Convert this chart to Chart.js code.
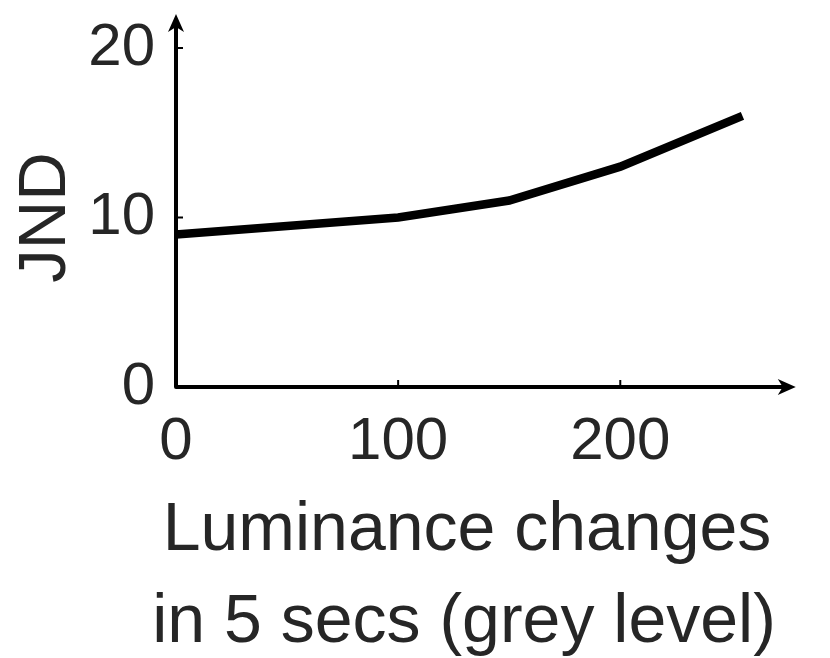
<!DOCTYPE html>
<html>
<head>
<meta charset="utf-8">
<title>JND vs luminance changes</title>
<script src="https://cdn.jsdelivr.net/npm/chart.js@4.4.1/dist/chart.umd.min.js"></script>
<style>
  html, body { margin: 0; padding: 0; background: #fff; }
  #wrap { width: 830px; height: 658px; }
</style>
</head>
<body>
<div id="wrap"><canvas id="mycanvas" width="830" height="658"></canvas></div>
<script>
// data
var luminance = [0, 100, 150, 200, 255];
var jnd = [9, 10, 11, 13, 16];
var xTickValues = [0, 100, 200];
var yTickValues = [0, 10, 20];
var xTitle = ["Luminance changes", "in 5 secs (grey level)"];
var yTitle = "JND";

// axis limits (the arrows run a bit past the last tick)
var xMax = 262, xArrowEnd = 279;
var yMax = 20, yArrowEnd = 22;

var textColor = "#262626";
var fontFamily = "'Liberation Sans', Arial, Helvetica, sans-serif";

function drawArrow(ctx, x, y, dx, dy) {
  // stealth style head, tip at (x, y), pointing along (dx, dy)
  var len = 18, half = 8, notch = 13;
  var px = -dy, py = dx;
  ctx.beginPath();
  ctx.moveTo(x, y);
  ctx.lineTo(x - dx * len + px * half, y - dy * len + py * half);
  ctx.lineTo(x - dx * notch, y - dy * notch);
  ctx.lineTo(x - dx * len - px * half, y - dy * len - py * half);
  ctx.closePath();
  ctx.fill();
}

var axesPlugin = {
  id: "axesPlugin",
  beforeDatasetsDraw: function (chart) {
    var ctx = chart.ctx;
    var xs = chart.scales.x, ys = chart.scales.y;
    var x0 = xs.getPixelForValue(0), y0 = ys.getPixelForValue(0);
    var xEnd = xs.getPixelForValue(xArrowEnd);
    var yEnd = ys.getPixelForValue(yArrowEnd);
    ctx.save();
    ctx.strokeStyle = "#000";
    ctx.fillStyle = "#000";
    ctx.lineWidth = 4;
    ctx.lineJoin = "round";
    ctx.beginPath();
    ctx.moveTo(x0, yEnd + 12);
    ctx.lineTo(x0, y0);
    ctx.lineTo(xEnd - 12, y0);
    ctx.stroke();
    drawArrow(ctx, x0, yEnd, 0, -1);
    drawArrow(ctx, xEnd, y0, 1, 0);
    // small inward tick marks
    ctx.lineWidth = 2;
    ctx.beginPath();
    xTickValues.forEach(function (v) {
      if (v === 0) return;
      var px = xs.getPixelForValue(v);
      ctx.moveTo(px, y0);
      ctx.lineTo(px, y0 - 7);
    });
    yTickValues.forEach(function (v) {
      if (v === 0) return;
      var py = ys.getPixelForValue(v);
      ctx.moveTo(x0, py);
      ctx.lineTo(x0 + 7, py);
    });
    ctx.stroke();
    ctx.restore();
  },
  // x title drawn by hand: the axis title would squeeze it to the axis width
  afterDraw: function (chart) {
    var ctx = chart.ctx;
    var xs = chart.scales.x;
    var cx = (xs.left + xs.right) / 2;
    ctx.save();
    ctx.fillStyle = textColor;
    ctx.font = "68px " + fontFamily;
    ctx.textAlign = "center";
    ctx.textBaseline = "alphabetic";
    ctx.fillText(xTitle[0], cx, xs.top + 163);
    ctx.fillText(xTitle[1], cx - 3, xs.top + 255);
    ctx.restore();
  }
};

var ctxL = document.getElementById("mycanvas").getContext("2d");
var myLineChart = new Chart(ctxL, {
  type: "line",
  data: {
    datasets: [{
      label: "JND",
      data: luminance.map(function (v, i) { return { x: v, y: jnd[i] }; }),
      borderColor: "#000",
      backgroundColor: "#000",
      borderWidth: 8.5,
      borderJoinStyle: "miter",
      pointRadius: 0,
      tension: 0,
      clip: false
    }]
  },
  options: {
    responsive: false,
    animation: false,
    events: [],
    layout: { padding: { top: 48, right: 72, left: 0, bottom: 0 } },
    plugins: { legend: { display: false }, tooltip: { enabled: false } },
    scales: {
      x: {
        type: "linear",
        min: 0,
        max: xMax,
        afterFit: function (scale) { scale.height = 271; },
        afterBuildTicks: function (scale) {
          scale.ticks = xTickValues.map(function (v) { return { value: v }; });
        },
        grid: { display: false, drawTicks: false },
        border: { display: false },
        ticks: {
          color: textColor,
          padding: 19,
          maxRotation: 0,
          autoSkip: false,
          font: { family: fontFamily, size: 60 }
        },
        title: { display: false }
      },
      y: {
        type: "linear",
        min: 0,
        max: yMax,
        afterFit: function (scale) {
          scale.width = 176;
          scale.paddingTop = 0;
          scale.paddingBottom = 0;
        },
        afterBuildTicks: function (scale) {
          scale.ticks = yTickValues.map(function (v) { return { value: v }; });
        },
        grid: { display: false, drawTicks: false },
        border: { display: false },
        ticks: {
          color: textColor,
          padding: 21,
          autoSkip: false,
          font: { family: fontFamily, size: 60 }
        },
        title: {
          display: true,
          text: yTitle,
          color: textColor,
          padding: { top: 6, bottom: 0 },
          font: { family: fontFamily, size: 67, lineHeight: 1.2 }
        }
      }
    }
  },
  plugins: [axesPlugin]
});
</script>
</body>
</html>
